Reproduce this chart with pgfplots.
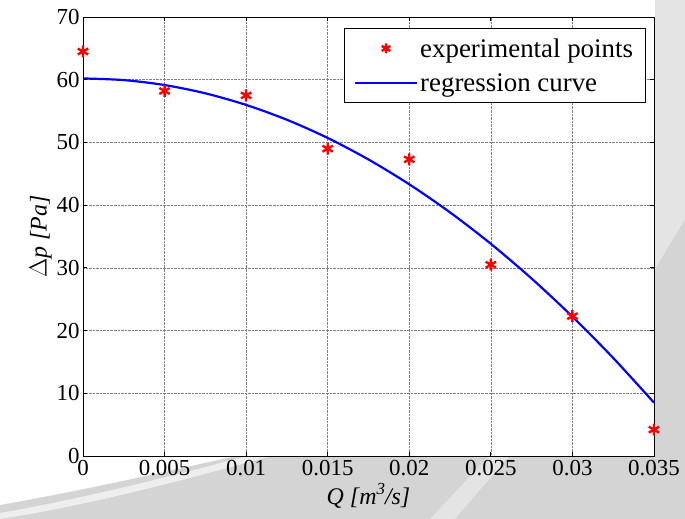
\documentclass[border=0pt]{standalone}
\usepackage{pgfplots}
\pgfplotsset{compat=1.18}
\usepackage{fontspec}
\setmainfont{Liberation Serif}
\definecolor{bggray}{RGB}{212,212,212}
\definecolor{bglight}{RGB}{228,228,228}
\definecolor{bgband}{RGB}{238,238,238}
\begin{document}
\begin{tikzpicture}[x=1bp,y=1bp]
\useasboundingbox (0,0) rectangle (685,519);
% background
\fill[white] (0,0) rectangle (685,519);
\fill[bggray] (0,0) -- (0,14) .. controls (80,28) and (170,48) .. (240,64) -- (655,64) -- (655,519) -- (685,519) -- (685,0) -- cycle;
\fill[bgband] (0,6) .. controls (80,20) and (170,42) .. (250,64) -- (275,64) .. controls (180,38) and (90,14) .. (0,0) -- cycle;
\fill[bglight] (430,0) -- (490,64) -- (510,64) -- (455,0) -- cycle;
\fill[bglight] (655,250) -- (685,300) -- (685,519) -- (655,519) -- cycle;
\begin{axis}[
  at={(83bp,63bp)}, anchor=south west,
  scale only axis, width=571bp, height=439bp,
  xmin=0, xmax=0.035, ymin=0, ymax=70,
  axis background/.style={fill=white},
  xtick={0,0.005,0.01,0.015,0.02,0.025,0.03,0.035},
  ytick={0,10,20,30,40,50,60,70},
  scaled x ticks=false,
  /pgf/number format/assume math mode=true,
  xticklabel={\mbox{\pgfmathprintnumber[fixed,precision=3,assume math mode=true]{\tick}}},
  yticklabel={\mbox{\pgfmathprintnumber[assume math mode=true]{\tick}}},
  xticklabel style={yshift=-1bp},
  tick align=inside, tick pos=both,
  major tick length=4bp,
  grid=major,
  major grid style={densely dotted, black!50, line width=0.6pt},
  axis line style={line width=0.9pt},
  every tick/.style={black, line width=0.8pt},
  ticklabel style={font=\fontsize{23}{25}\selectfont},
  xlabel={\textit{Q [m\raisebox{0.45em}{\fontsize{17}{17}\selectfont 3}/s]}},
  ylabel={$\Delta$\textit{p [Pa]}},
  label style={font=\fontsize{24}{26}\selectfont},
  xlabel style={yshift=0bp},
  ylabel style={yshift=-2bp},
  legend style={at={(0.985,0.975)}, anchor=north east, draw=black, line width=0.8pt,
    font=\fontsize{27}{31}\selectfont, inner xsep=10bp, inner ysep=8bp,
    row sep=11bp, cells={anchor=west}},
  legend cell align=left,
  legend image code/.code={
    \draw[#1] (0bp,0bp) -- (62bp,0bp);
  },
]
\addplot[only marks, red, mark=asterisk, mark size=6bp, line width=2.4pt,
  legend image code/.code={\draw[red, line width=2.4pt] plot[mark=asterisk, mark size=5bp] coordinates {(31bp,0bp)};}]
  coordinates {
  (0,64.5) (0.005,58.2) (0.01,57.5) (0.015,49.0) (0.02,47.3)
  (0.025,30.5) (0.03,22.3) (0.035,4.2)
};
\addlegendentry{experimental points}
\addplot[blue, line width=2.2pt, smooth] coordinates {
  (0,60.2) (0.0025,59.94) (0.005,59.15) (0.0075,57.83) (0.01,55.98)
  (0.0125,53.61) (0.015,50.71) (0.0175,47.28) (0.02,43.32)
  (0.0225,38.84) (0.025,33.83) (0.0275,28.29) (0.03,22.22)
  (0.0325,15.63) (0.035,8.5)
};
\addlegendentry{regression curve}
\end{axis}
\end{tikzpicture}
\end{document}
